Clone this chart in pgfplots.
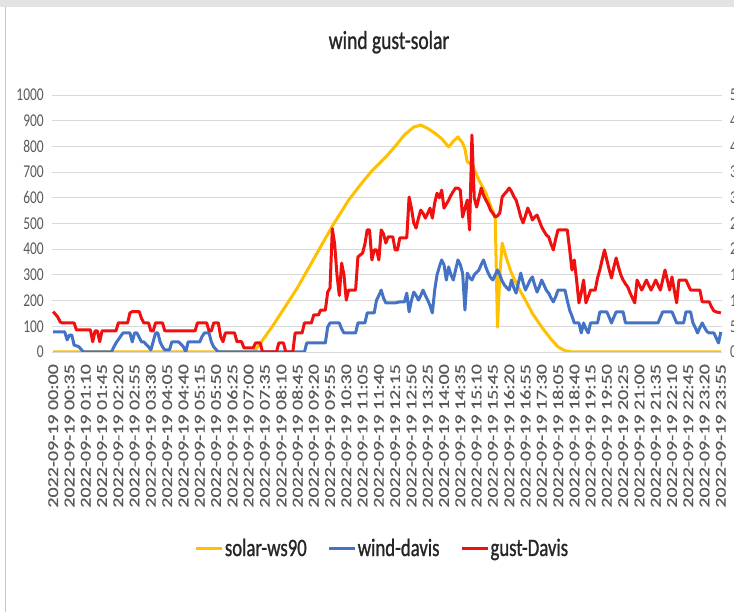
\documentclass[border=0pt]{standalone}
\usepackage{fontspec}
\setmainfont{Carlito}[FakeStretch=0.75]
\newfontfamily\headfont{Carlito}[FakeStretch=0.75, FakeBold=1]
\newfontfamily\rotfont{Carlito}[FakeStretch=1.33, FakeBold=0.6]
\usepackage{pgfplots}
\pgfplotsset{compat=1.18}

\definecolor{solarc}{HTML}{FFC000}
\definecolor{windc}{HTML}{4472C4}
\definecolor{gustc}{HTML}{F01010}
\definecolor{gridc}{HTML}{D9D9D9}
\definecolor{tickc}{HTML}{595959}
\definecolor{textc}{HTML}{262626}

\begin{document}
\begin{tikzpicture}
\path[use as bounding box] (0,0) rectangle (734pt,612pt);
% chart area frame (cropped screenshot)
\fill[gray!22] (0,605pt) rectangle (734pt,612pt);
\draw[gray!45, line width=1pt] (5pt,0) -- (5pt,605pt);
\node[anchor=base, font=\headfont\fontsize{26}{26}\selectfont, text=textc] at (389pt,563pt) {wind gust-solar};

\begin{axis}[
    at={(52pt,260pt)}, anchor=south west,
    scale only axis, width=670pt, height=257pt,
    xmin=-0.5, xmax=287.5, ymin=0, ymax=1000,
    ytick={0,100,...,1000},
    xtick={0,7,...,287},
    xticklabels={2022-09-19 00:00,2022-09-19 00:35,2022-09-19 01:10,2022-09-19 01:45,
      2022-09-19 02:20,2022-09-19 02:55,2022-09-19 03:30,2022-09-19 04:05,
      2022-09-19 04:40,2022-09-19 05:15,2022-09-19 05:50,2022-09-19 06:25,
      2022-09-19 07:00,2022-09-19 07:35,2022-09-19 08:10,2022-09-19 08:45,
      2022-09-19 09:20,2022-09-19 09:55,2022-09-19 10:30,2022-09-19 11:05,
      2022-09-19 11:40,2022-09-19 12:15,2022-09-19 12:50,2022-09-19 13:25,
      2022-09-19 14:00,2022-09-19 14:35,2022-09-19 15:10,2022-09-19 15:45,
      2022-09-19 16:20,2022-09-19 16:55,2022-09-19 17:30,2022-09-19 18:05,
      2022-09-19 18:40,2022-09-19 19:15,2022-09-19 19:50,2022-09-19 20:25,
      2022-09-19 21:00,2022-09-19 21:35,2022-09-19 22:10,2022-09-19 22:45,
      2022-09-19 23:20,2022-09-19 23:55},
    ymajorgrids,
    major grid style={draw=gridc, line width=0.9pt},
    axis line style={draw=none},
    tick style={draw=none},
    /pgf/number format/assume math mode=true,
    /pgf/number format/1000 sep={},
    yticklabel style={font=\fontsize{18}{18}\selectfont, text=tickc, inner sep=0pt, xshift=-8pt},
    xticklabel style={rotate=90, anchor=east, font=\rotfont\fontsize{15}{15}\selectfont, text=tickc, inner sep=0pt},
    xticklabel shift=12pt,
    legend columns=3,
    legend style={at={(0.5,-0.763)}, anchor=center, xshift=-5pt, draw=none, fill=none,
      font=\headfont\fontsize{25}{25}\selectfont, text=textc,
      nodes={inner sep=1pt},
      /tikz/every even column/.append style={column sep=20pt}},
    legend image code/.code={\draw[#1, line width=3pt] (0pt,0pt) -- (26pt,0pt);},
    every axis plot/.append style={line width=3pt, line join=round},
]
\addplot[solarc] coordinates {
(0,0) (86,0) (88,20) (95,110) (100,180) (105,250) (110,330) (115,410) (120,490)
(127,591) (132,650) (137,705) (143,759) (147,800) (151,845) (155,875) (158,883)
(161,870) (164,852) (167,830) (170,798) (172,820) (174,837) (176,813) (177,790)
(178,740) (180,730) (183,669) (186,618) (188,570) (190,525) (191,97) (192,300)
(193,424) (195,360) (197,307) (200,250) (203,202) (206,150) (210,97) (214,50)
(217,20) (220,5) (223,0) (287,0)
};
\addlegendentry{solar-ws90}
\addplot[windc] coordinates {
(0,78) (5,78) (6,47) (7,66) (8,66) (9,27) (11,21) (13,0) (25,0) (27,35) (30,74)
(33,74) (34,39) (35,74) (36,74) (38,39) (39,39) (41,20) (42,8) (43,40) (44,74)
(45,74) (46,39) (47,20) (48,8) (50,8) (51,39) (54,39) (56,20) (57,0) (58,39)
(63,39) (64,60) (65,74) (67,74) (68,39) (69,20) (71,0) (108,0) (109,35) (117,35)
(118,97) (119,113) (123,113) (124,90) (125,74) (130,74) (131,113) (134,113)
(135,152) (138,152) (139,202) (140,220) (141,241) (142,210) (143,191) (147,191)
(149,195) (151,195) (152,229) (153,156) (154,200) (155,233) (156,220) (157,202)
(158,220) (159,241) (160,220) (161,202) (162,180) (163,152) (164,241) (165,300)
(166,331) (167,358) (168,340) (169,280) (170,331) (171,300) (172,280) (173,320)
(174,358) (175,340) (176,307) (177,163) (178,307) (179,290) (180,280) (181,300)
(182,310) (183,319) (184,340) (185,358) (186,330) (187,307) (188,290) (189,280)
(190,300) (191,319) (192,300) (193,276) (194,260) (195,250) (196,241) (197,280)
(198,250) (199,229) (200,270) (201,307) (202,270) (203,241) (204,260) (205,280)
(206,292) (207,260) (208,233) (209,255) (210,280) (211,260) (212,240) (213,229)
(214,210) (215,195) (216,215) (217,241) (220,241) (221,200) (222,163) (223,140)
(224,113) (226,113) (227,74) (228,113) (229,90) (230,74) (231,113) (234,113)
(235,156) (238,156) (239,135) (240,113) (241,135) (242,156) (245,156) (246,113)
(260,113) (261,135) (262,156) (266,156) (267,135) (268,113) (271,113) (272,156)
(274,156) (275,113) (276,95) (277,74) (278,95) (279,113) (280,95) (281,80)
(282,74) (284,74) (285,55) (286,35) (287,78)
};
\addlegendentry{wind-davis}
\addplot[gustc] coordinates {
(0,157) (2,136) (3,117) (4,113) (9,113) (10,86) (16,86) (17,40) (18,82) (19,82)
(20,40) (21,82) (27,82) (28,113) (32,113) (33,152) (34,157) (37,157) (38,130)
(39,113) (41,113) (42,82) (43,82) (44,113) (47,113) (48,82) (61,82) (62,113)
(66,113) (67,82) (68,82) (69,113) (71,113) (72,60) (73,40) (74,74) (78,74)
(79,40) (81,40) (82,16) (86,16) (87,35) (89,35) (90,0) (96,0) (97,35) (99,35)
(100,0) (103,0) (104,74) (107,74) (108,113) (111,113) (112,144) (114,144)
(115,163) (117,163) (118,233) (119,249) (120,480) (121,420) (122,300) (123,220)
(124,346) (125,300) (126,202) (127,241) (130,241) (131,370) (133,385) (134,420)
(135,475) (136,475) (137,358) (138,397) (139,397) (140,358) (141,475) (142,460)
(143,424) (144,448) (146,448) (147,397) (148,397) (149,444) (152,444) (153,603)
(154,560) (155,502) (156,482) (157,520) (158,552) (159,540) (160,521) (161,540)
(162,560) (163,521) (164,580) (165,618) (166,600) (167,630) (168,560) (169,575)
(170,591) (171,610) (172,625) (173,638) (174,638) (175,630) (176,525) (177,560)
(178,591) (179,475) (180,844) (181,600) (182,564) (183,600) (184,638) (185,610)
(186,591) (187,575) (188,552) (189,540) (190,525) (191,530) (192,541) (193,603)
(194,615) (195,625) (196,638) (197,625) (198,605) (199,591) (200,560) (201,525)
(202,502) (203,530) (204,560) (205,540) (206,514) (207,525) (208,533) (209,510)
(210,486) (211,470) (212,455) (213,448) (214,420) (215,397) (216,440) (217,475)
(221,475) (222,400) (223,319) (224,358) (225,280) (226,191) (227,230) (228,280)
(229,191) (230,215) (231,241) (233,241) (234,288) (235,320) (236,360) (237,397)
(238,358) (239,320) (240,288) (241,330) (242,366) (243,331) (244,300) (245,280)
(246,265) (247,253) (248,230) (249,210) (250,191) (251,280) (252,260) (253,241)
(254,260) (255,280) (256,260) (257,241) (258,260) (259,280) (260,260) (261,241)
(262,280) (263,319) (264,280) (265,241) (266,292) (267,240) (268,191) (269,280)
(272,280) (273,260) (274,241) (278,241) (279,195) (282,195) (283,175) (284,160)
(285,156) (287,152)
};
\addlegendentry{gust-Davis}
\end{axis}

% secondary axis, its labels are cut by the right edge as in the screenshot
\begin{axis}[
    at={(52pt,260pt)}, anchor=south west,
    scale only axis, width=670pt, height=257pt,
    xmin=0, xmax=1, ymin=0, ymax=50,
    ytick={0,5,...,50},
    axis x line=none, axis y line*=right,
    y axis line style={draw=none},
    tick style={draw=none},
    /pgf/number format/assume math mode=true,
    yticklabel style={font=\fontsize{18}{18}\selectfont, text=tickc, anchor=west, inner sep=0pt, xshift=8pt},
]
\end{axis}
\end{tikzpicture}
\end{document}
